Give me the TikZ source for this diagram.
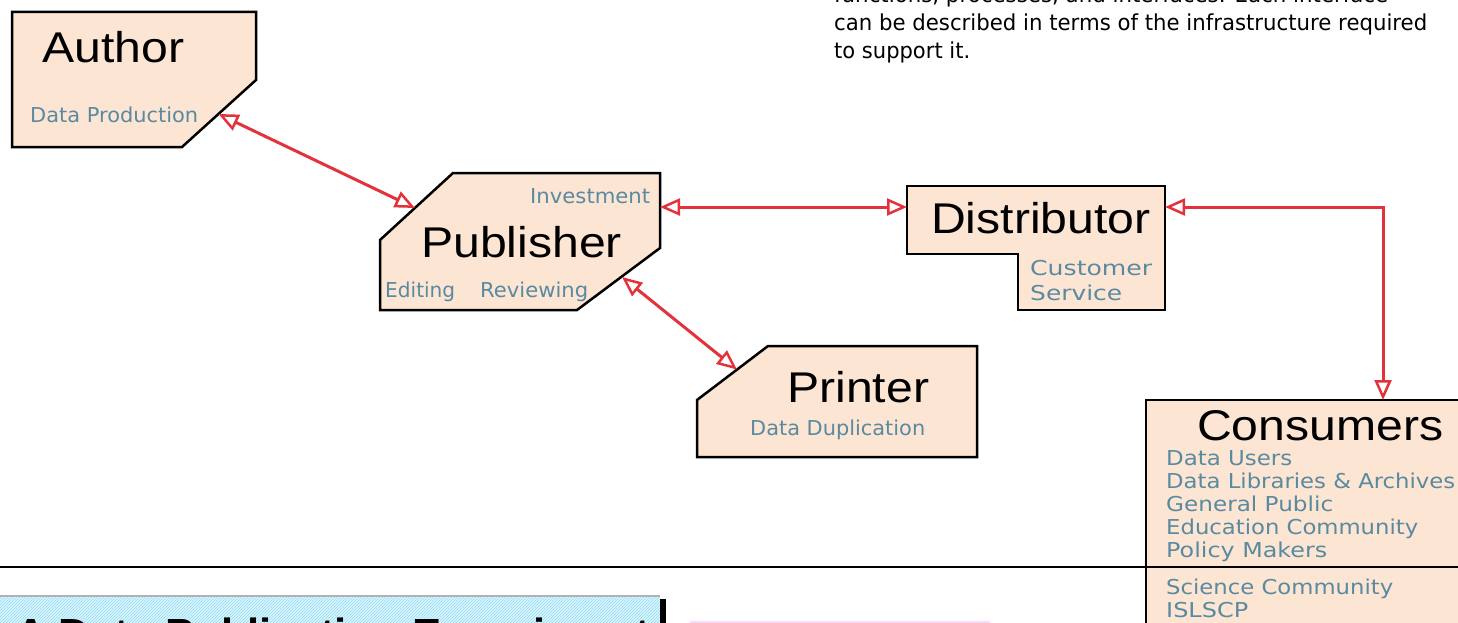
\documentclass[tikz,border=0pt]{standalone}
\usepackage{fontspec}
\usepackage{graphicx}
\setmainfont{Liberation Sans}
\newfontfamily\headfont[FakeStretch=1.12]{Liberation Sans}
\newfontfamily\tagfont{DejaVu Sans}
\newfontfamily\notefont{DejaVu Sans}
\usetikzlibrary{arrows.meta,patterns}

\definecolor{peach}{RGB}{252,229,211}
\definecolor{tagblue}{RGB}{90,138,160}
\definecolor{linkred}{RGB}{228,50,60}
\definecolor{hatchbase}{RGB}{222,245,252}
\definecolor{hatchcyan}{RGB}{140,220,245}
\definecolor{rosebar}{RGB}{250,218,250}

% set a label to a given width (in pt) keeping its height
\newcommand\fitw[2]{\resizebox{#1pt}{\height}{#2}}

\tikzset{
  role/.style={draw=black, line width=2.5pt, fill=peach, line join=miter},
  rolename/.style={anchor=base west, inner sep=0pt, font=\headfont\fontsize{43}{43}\selectfont},
  tag/.style={anchor=base west, inner sep=0pt, text=tagblue, font=\tagfont\fontsize{20.5}{20.5}\selectfont},
  note/.style={anchor=base west, inner sep=0pt, font=\notefont\fontsize{22}{22}\selectfont},
  redtip/.tip={Triangle[open, length=20pt, width=17pt, line width=2.5pt, fill=white]},
  link/.style={draw=linkred, line width=3pt, redtip-redtip},
}

\begin{document}
\begin{tikzpicture}[x=1pt, y=-1pt]
\useasboundingbox (0,0) rectangle (1458,623);
\clip (0,0) rectangle (1458,623);

% ---- explanatory note, top right
\node[note] (note1) at (834,3) {\fitw{554}{functions, processes, and interfaces. Each interface}};
\node[note] (note2) at (834,31) {\fitw{593}{can be described in terms of the infrastructure required}};
\node[note] (note3) at (834,59) {\fitw{136}{to support it.}};

% ---- Author
\draw[role] (12,12) -- (256,12) -- (256,80) -- (182,147) -- (12,147) -- cycle;
\node[rolename] (author) at (42,63) {Author};
\node[tag] (authortag) at (30,123) {\fitw{168}{Data Production}};
\coordinate (authorlink) at (218.5,114);

% ---- Publisher
\draw[role] (453,173) -- (660,173) -- (660,248) -- (577,310) -- (380,310) -- (380,240) -- cycle;
\node[rolename] (publisher) at (421,257) {Publisher};
\node[tag] (invest) at (530,203) {\fitw{120}{Investment}};
\node[tag] (editing) at (385,297) {\fitw{70}{Editing}};
\node[tag] (reviewing) at (480,297) {\fitw{108}{Reviewing}};
\coordinate (publeft) at (415,208);
\coordinate (pubright) at (660,207);
\coordinate (pubdown) at (622,277);

% ---- Distributor
\draw[role] (907,186) -- (1165,186) -- (1165,310) -- (1018,310) -- (1018,254) -- (907,254) -- cycle;
\node[rolename] (distributor) at (931,233) {Distributor};
\node[tag] (cust1) at (1030,275) {\fitw{122}{Customer}};
\node[tag] (cust2) at (1030,300) {\fitw{92}{Service}};
\coordinate (distleft) at (907,207);
\coordinate (distright) at (1165,207);
\coordinate (distbend) at (1383,207);

% ---- Printer
\draw[role] (768,346) -- (977,346) -- (977,457) -- (697,457) -- (697,400) -- cycle;
\node[rolename] (printer) at (787,402) {Printer};
\node[tag] (printtag) at (750,435) {\fitw{175}{Data Duplication}};
\coordinate (printlink) at (737,369.6);

% ---- Consumers
\draw[role] (1146,400) rectangle (1480,660);
\node[rolename] (consumers) at (1197,440) {Consumers};
\node[tag] (c1) at (1166,465) {\fitw{126}{Data Users}};
\node[tag] (c2) at (1166,488) {\fitw{289}{Data Libraries \& Archives}};
\node[tag] (c3) at (1166,511) {\fitw{167}{General Public}};
\node[tag] (c4) at (1166,534) {\fitw{252}{Education Community}};
\node[tag] (c5) at (1166,557) {\fitw{161}{Policy Makers}};
\node[tag] (c6) at (1166,594) {\fitw{227}{Science Community}};
\node[tag] (c7) at (1166,617) {\fitw{82}{ISLSCP}};
\coordinate (constop) at (1383,400);

% ---- links between the roles
\draw[link] (authorlink) -- (publeft);
\draw[link] (pubright) -- (distleft);
\draw[link] (pubdown) -- (printlink);
\draw[link] (distright) -- (distbend) -- (constop);

% ---- separating rule
\draw[line width=2pt] (0,567) -- (1458,567);

% ---- title banner, bottom left
\fill[hatchbase] (0,596) rectangle (660,660);
\fill[pattern=north east lines, pattern color=hatchcyan] (0,596) rectangle (660,660);
\draw[line width=1.2pt, black!30] (0,596) -- (660,596);
\fill[black] (660,599) rectangle (666,660);
\node[anchor=base west, inner sep=0pt, font=\bfseries\fontsize{43.6}{44}\selectfont] (banner) at (15,649) {A Data Publication Experiment};

% ---- pink panel edge, bottom
\fill[rosebar] (690,621) rectangle (990,660);
\end{tikzpicture}
\end{document}
